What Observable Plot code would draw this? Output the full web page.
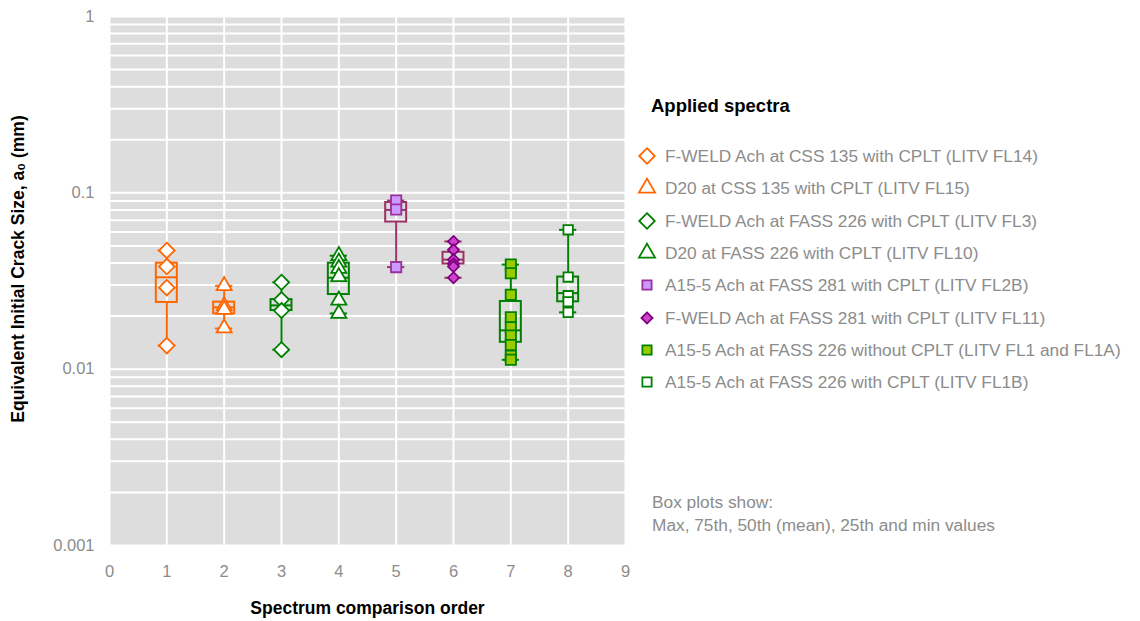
<!DOCTYPE html>
<html><head><meta charset="utf-8">
<script src="https://cdn.jsdelivr.net/npm/d3@7"></script>
<script src="https://cdn.jsdelivr.net/npm/@observablehq/plot@0.6"></script>
<style>
body{margin:0;background:#fff;font-family:"Liberation Sans",Arial,sans-serif;}
#wrap{position:relative;width:1140px;height:621px;overflow:hidden;}
#wrap svg.plot{position:absolute;left:0;top:0;}
.lg{position:absolute;white-space:nowrap;color:#8c8c8c;font-size:17.3px;line-height:20px;}
.lgt{position:absolute;white-space:nowrap;color:#000;font-size:18.5px;font-weight:bold;}
.mk{position:absolute;}
</style></head><body><div id="wrap"></div>
<script>
// ---- data ----
const seriesX = [1, 2, 3, 4, 5, 6, 7, 8];
const seriesNames = [
  "F-WELD Ach at CSS 135 with CPLT (LITV FL14)",
  "D20 at CSS 135 with CPLT (LITV FL15)",
  "F-WELD Ach at FASS 226 with CPLT (LITV FL3)",
  "D20 at FASS 226 with CPLT (LITV FL10)",
  "A15-5 Ach at FASS 281 with CPLT (LITV FL2B)",
  "F-WELD Ach at FASS 281 with CPLT (LITV FL11)",
  "A15-5 Ach at FASS 226 without CPLT (LITV FL1 and FL1A)",
  "A15-5 Ach at FASS 226 with CPLT (LITV FL1B)"
];
const s1 = [0.0471, 0.0382, 0.0290, 0.0136];
const s2 = [0.0297, 0.0228, 0.0218, 0.0171];
const s3 = [0.0311, 0.0248, 0.0215, 0.0129];
const s4 = [0.0440, 0.0404, 0.0372, 0.0334, 0.0246, 0.0207];
const s5 = [0.0904, 0.0804, 0.0379];
const s6 = [0.0530, 0.0475, 0.0418, 0.0396, 0.0382, 0.0330];
const s7 = [0.0392, 0.0350, 0.0264, 0.0197, 0.0173, 0.0155, 0.0137, 0.0119, 0.0113];
const s8 = [0.0617, 0.0333, 0.0261, 0.0241, 0.0210];
const seriesValues = [s1, s2, s3, s4, s5, s6, s7, s8];

const boxMax = [0.0471, 0.0297, 0.0311, 0.0440, 0.0904, 0.0530, 0.0392, 0.0617];
const boxQ3  = [0.0399, 0.0240, 0.0248, 0.0399, 0.0881, 0.0460, 0.0242, 0.0333];
const boxMid = [0.0332, 0.0224, 0.0230, 0.0330, 0.0800, 0.0418, 0.0166, 0.0270];
const boxQ1  = [0.0239, 0.0206, 0.0215, 0.0265, 0.0683, 0.0395, 0.0142, 0.0241];
const boxMin = [0.0136, 0.0170, 0.0129, 0.0207, 0.0379, 0.0330, 0.0113, 0.0210];

const xTicks = [0, 1, 2, 3, 4, 5, 6, 7, 8, 9];
const yTicks = [1, 0.1, 0.01, 0.001];
const yGrid = [1, 2, 3, 4, 5, 6, 7, 8, 9].flatMap(k => [0.001 * k, 0.01 * k, 0.1 * k]).concat([1]);

const xLabel = "Spectrum comparison order";
const yLabel = "Equivalent Initial Crack Size, a\u2080 (mm)";
const legendTitle = "Applied spectra";
const noteLines = ["Box plots show:", "Max, 75th, 50th (mean), 25th and min values"];

// ---- styles ----
const symbols = ["diamond2", "triangle", "diamond2", "triangle", "square", "diamond2", "square", "square"];
const fills   = ["#ffffff", "#ffffff", "#ffffff", "#ffffff", "#cc99ff", "#cc44cc", "#99cc00", "#ffffff"];
const strokes = ["#ff6600", "#ff6600", "#008000", "#008000", "#993399", "#800080", "#008000", "#008000"];
const boxColors = ["#ff6600", "#ff6600", "#008000", "#008000", "#993366", "#993366", "#008000", "#008000"];
const radii   = [7.0, 5.6, 6.8, 5.6, 5.8, 5.0, 5.8, 5.3];
const BW = 0.183, CW = 0.15;

const boxRows = seriesX.map((x, i) => ({x, max: boxMax[i], q3: boxQ3[i], mid: boxMid[i], q1: boxQ1[i], min: boxMin[i], c: boxColors[i]}));

const marks = [
  Plot.frame({fill: "#dddddd", stroke: null}),
  Plot.ruleY(yGrid, {stroke: "#ffffff", strokeWidth: 2}),
  Plot.ruleX(xTicks, {stroke: "#ffffff", strokeWidth: 2}),
  Plot.ruleX(boxRows, {x: "x", y1: "q3", y2: "max", stroke: "c", strokeWidth: 2}),
  Plot.ruleX(boxRows, {x: "x", y1: "min", y2: "q1", stroke: "c", strokeWidth: 2}),
  Plot.rect(boxRows, {x1: d => d.x - BW, x2: d => d.x + BW, y1: "q1", y2: "q3", fill: "none", stroke: "c", strokeWidth: 2}),
  Plot.ruleY(boxRows, {y: "mid", x1: d => d.x - BW, x2: d => d.x + BW, stroke: "c", strokeWidth: 2}),
  Plot.ruleY(boxRows, {y: "max", x1: d => d.x - CW, x2: d => d.x + CW, stroke: "c", strokeWidth: 2}),
  Plot.ruleY(boxRows, {y: "min", x1: d => d.x - CW, x2: d => d.x + CW, stroke: "c", strokeWidth: 2})
];
seriesValues.forEach((vals, i) => {
  marks.push(Plot.dot(vals.map(v => ({x: seriesX[i], v})), {
    x: "x", y: "v", symbol: () => symbols[i], r: radii[i],
    fill: fills[i], stroke: strokes[i], strokeWidth: 1.8
  }));
});
marks.push(
  Plot.axisX(xTicks, {tickSize: 0, tickPadding: 20, fontSize: 16.5, color: "#8c8c8c", label: null}),
  Plot.axisY(yTicks, {tickSize: 0, tickPadding: 15, fontSize: 16.5, color: "#8c8c8c", label: null, tickFormat: d => String(d)}),
  Plot.text([xLabel], {text: d => d, frameAnchor: "bottom", dy: 63, lineAnchor: "middle", textAnchor: "middle", fontSize: 17.5, fontWeight: "bold", fill: "#000"}),
  Plot.text([yLabel], {text: d => d, frameAnchor: "left", dx: -91, dy: -12, rotate: -90, lineAnchor: "middle", textAnchor: "middle", fontSize: 17.5, fontWeight: "bold", fill: "#000"})
);

const chart = Plot.plot({
  width: 1140, height: 621,
  marginLeft: 109, marginRight: 515, marginTop: 16, marginBottom: 76,
  style: {fontFamily: "'Liberation Sans', Arial, sans-serif", background: "transparent", overflow: "visible"},
  x: {domain: [0, 9], axis: null},
  y: {type: "log", domain: [0.001, 1], axis: null},
  symbol: {type: "identity"},
  color: {type: "identity"},
  marks
});
chart.classList.add("plot");
const wrap = document.getElementById("wrap");
wrap.appendChild(chart);

// ---- legend (HTML) ----
const lt = document.createElement("div");
lt.className = "lgt"; lt.style.left = "651px"; lt.style.top = "95px"; lt.textContent = legendTitle;
wrap.appendChild(lt);
const symMap = {diamond2: d3.symbolDiamond2, triangle: d3.symbolTriangle, square: d3.symbolSquare};
const legendR = [7.0, 6.0, 7.0, 6.0, 5.2, 5.0, 5.2, 5.2];
seriesNames.forEach((name, i) => {
  const cy = 156 + i * 32.3;
  const svg = d3.create("svg").attr("class", "mk").attr("width", 22).attr("height", 22)
    .style("left", (647 - 11) + "px").style("top", (cy - 11) + "px");
  svg.append("path").attr("transform", "translate(11,11)")
    .attr("d", d3.symbol(symMap[symbols[i]], Math.PI * legendR[i] * legendR[i])())
    .attr("fill", fills[i]).attr("stroke", strokes[i]).attr("stroke-width", 1.8);
  wrap.appendChild(svg.node());
  const t = document.createElement("div");
  t.className = "lg"; t.style.left = "665px"; t.style.top = (cy - 10) + "px"; t.textContent = name;
  wrap.appendChild(t);
});
noteLines.forEach((s, i) => {
  const t = document.createElement("div");
  t.className = "lg"; t.style.left = "652px"; t.style.top = (492 + i * 23) + "px"; t.textContent = s;
  wrap.appendChild(t);
});
</script></body></html>
